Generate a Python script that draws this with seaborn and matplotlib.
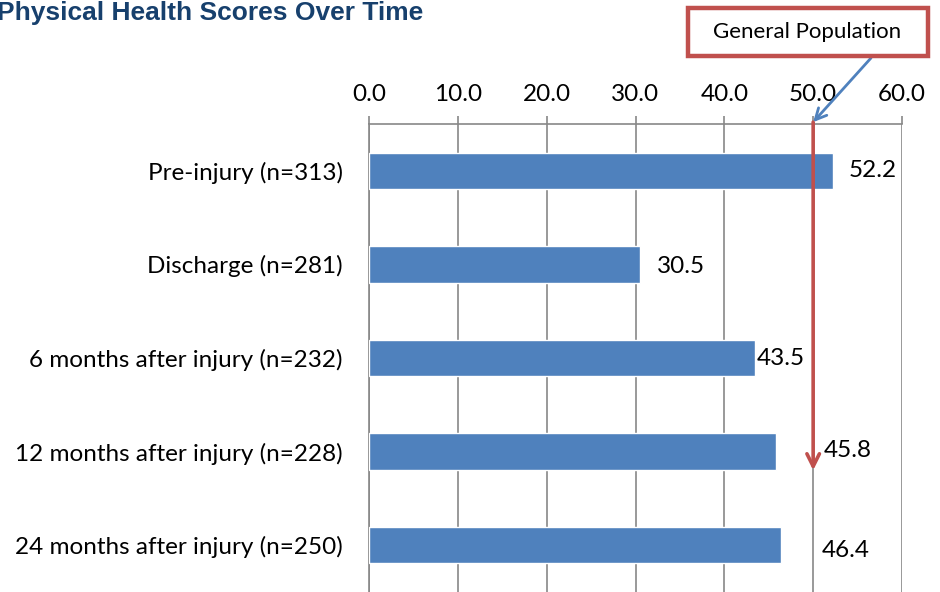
import matplotlib
matplotlib.use('Agg')
import matplotlib.pyplot as plt
import matplotlib.patches as mpatches
import seaborn as sns
import pandas as pd
import numpy as np

#%%
'''DATA'''
categories = ['Pre-injury (n=313)', 'Discharge (n=281)', '6 months after injury (n=232)',
              '12 months after injury (n=228)', '24 months after injury (n=250)']
scores = [52.2, 30.5, 43.5, 45.8, 46.4]
general_population = 50.0
x_ticks = [0, 10, 20, 30, 40, 50, 60]

#label offsets (x in data units, y in category units) - some labels moved off the arrow
label_dx = [1.8, 1.9, 0.2, 5.4, 4.6]
label_dy = [0.0, 0.02, 0.01, -0.01, 0.06]

df = pd.DataFrame({'Group': categories, 'Score': scores})

#%%
'''PLOT'''
sns.set_style('white')
plt.rcParams['font.family'] = ['Lato', 'DejaVu Sans']
plt.rcParams['text.color'] = 'black'
plt.rcParams['xtick.labelcolor'] = 'black'
plt.rcParams['ytick.labelcolor'] = 'black'

fig = plt.figure(figsize=(9.4, 5.92), dpi=100)
ax = fig.add_axes([369/940, 0.0, (902-369)/940, 1 - 124/592])

bar_col = '#4F81BD'
red = '#C0504D'
grid_col = '#878787'
fs = 17.5

sns.barplot(data=df, x='Score', y='Group', orient='h', color=bar_col,
            width=0.39, saturation=1, ax=ax, zorder=3)

ax.set_xlim(0, 60)
ax.set_ylim(4.5, -0.5)
ax.xaxis.tick_top()
ax.set_xticks(x_ticks)
ax.set_xticklabels([f'{t:.1f}' for t in x_ticks], fontsize=fs)
ax.set_yticks(range(len(categories)))
ax.set_yticklabels(categories, fontsize=fs)
ax.set_yticks(np.arange(-0.5, 5, 1), minor=True)
ax.tick_params(axis='y', which='major', length=0, pad=19, labelcolor='black')
ax.tick_params(axis='y', which='minor', length=6, width=1.2, color=grid_col, direction='out')
ax.tick_params(axis='x', which='major', length=6, width=1.2, color=grid_col,
               direction='out', pad=8, top=True, bottom=False, labelcolor='black')
ax.set_xlabel('')
ax.set_ylabel('')
ax.grid(axis='x', color=grid_col, lw=1.2, zorder=0)
ax.set_axisbelow(True)
for s in ['right', 'bottom']:
    ax.spines[s].set_visible(False)
for s in ['top', 'left']:
    ax.spines[s].set_color(grid_col)
    ax.spines[s].set_linewidth(1.2)

#value labels
for i, v in enumerate(scores):
    ax.text(v + label_dx[i], i + label_dy[i], f'{v:.1f}', fontsize=fs,
            va='center', ha='left', color='black', zorder=5)

#General population arrow
ax.annotate('', xy=(general_population, 3.2), xytext=(general_population, -0.52),
            arrowprops=dict(arrowstyle='->,head_length=0.9,head_width=0.45',
                            color=red, lw=2.6, shrinkA=0, shrinkB=0),
            zorder=6, annotation_clip=False)

#callout box
fig.patches.append(mpatches.Rectangle((688/940, 1 - 56/592), 240/940, 48/592,
                                      transform=fig.transFigure, fc='white', ec=red,
                                      lw=3.2, zorder=5))
fig.text(807/940, 1 - 32/592, 'General Population', fontsize=16, ha='center', va='center',
         color='black', zorder=6)
ax.annotate('', xy=(general_population, -0.52), xycoords='data',
            xytext=(871/940, 1 - 58/592), textcoords='figure fraction',
            arrowprops=dict(arrowstyle='->,head_length=0.8,head_width=0.4',
                            color=bar_col, lw=2, shrinkA=0, shrinkB=0),
            annotation_clip=False, zorder=7)

#title
fig.text(-3/940, 1 - 13/592, 'Physical Health Scores Over Time', fontsize=19,
         fontweight='bold', color='#17406D', ha='left', va='center',
         family=['Liberation Sans', 'DejaVu Sans'])

fig.savefig('out.png', dpi=100)
